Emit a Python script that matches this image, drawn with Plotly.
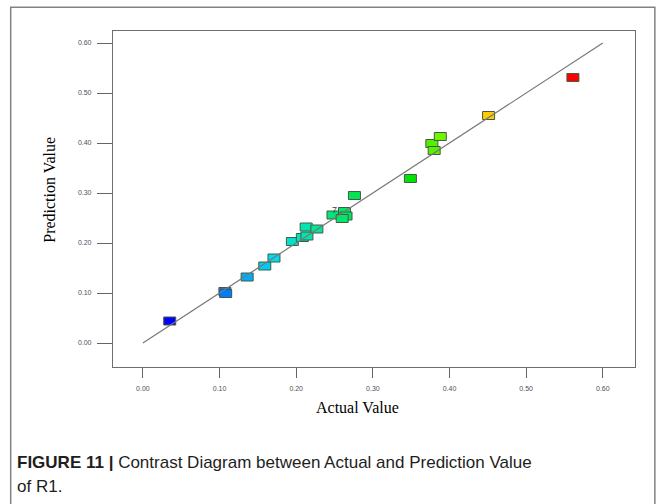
import plotly.graph_objects as go
from plotly.colors import sample_colorscale

# Data
actual = [0.035, 0.107, 0.108, 0.136, 0.159, 0.171, 0.195, 0.208, 0.214, 0.213, 0.227,
          0.248, 0.263, 0.265, 0.260, 0.276, 0.349, 0.377, 0.380, 0.388, 0.451, 0.561]
predicted = [0.044, 0.103, 0.099, 0.132, 0.154, 0.170, 0.203, 0.211, 0.214, 0.232, 0.228,
             0.256, 0.263, 0.254, 0.249, 0.295, 0.329, 0.399, 0.385, 0.413, 0.455, 0.531]
tick_vals = [0.0, 0.1, 0.2, 0.3, 0.4, 0.5, 0.6]
tick_text = ["0.00", "0.10", "0.20", "0.30", "0.40", "0.50", "0.60"]
point_label = "7"
point_label_xy = (0.250, 0.266)

colorscale = [
    [0.00, "rgb(0,0,255)"],
    [0.14, "rgb(0,125,255)"],
    [0.20, "rgb(0,180,245)"],
    [0.26, "rgb(0,220,240)"],
    [0.33, "rgb(0,230,185)"],
    [0.42, "rgb(0,230,110)"],
    [0.50, "rgb(0,230,50)"],
    [0.60, "rgb(0,228,0)"],
    [0.67, "rgb(110,245,0)"],
    [0.79, "rgb(255,205,0)"],
    [1.00, "rgb(255,0,0)"],
]
lo, hi = min(actual), max(actual)
fills = [sample_colorscale(colorscale, (v - lo) / (hi - lo))[0] for v in actual]

fig = go.Figure()
fig.add_trace(go.Scatter(x=[0, 0.6], y=[0, 0.6], mode="lines",
                         line=dict(color="rgb(120,120,120)", width=1.2),
                         showlegend=False, hoverinfo="skip"))
fig.add_trace(go.Scatter(x=actual, y=predicted, mode="markers",
                         marker=dict(size=10, opacity=0), showlegend=False))

shapes = []
for xv, yv, c in zip(actual, predicted, fills):
    shapes.append(dict(type="rect", xref="x", yref="y", layer="below",
                       xsizemode="pixel", ysizemode="pixel",
                       xanchor=xv, yanchor=yv, x0=-6, x1=6, y0=-4, y1=4,
                       fillcolor=c, line=dict(color="rgb(70,90,70)", width=1)))
# outer frame
shapes.append(dict(type="rect", xref="paper", yref="paper",
                   x0=-0.196, x1=1.038, y0=-0.5, y1=1.071,
                   line=dict(color="rgb(130,130,130)", width=1.5)))

tickfont = dict(family="Liberation Sans, Arial", size=7, color="rgb(80,80,90)")
axis_common = dict(tickmode="array", tickvals=tick_vals, ticktext=tick_text,
                   showgrid=False, zeroline=False, showline=True, mirror=True,
                   linecolor="rgb(110,110,110)", linewidth=1.2,
                   ticks="outside", tickcolor="rgb(100,100,100)", tickwidth=1.2,
                   tickfont=tickfont)

fig.update_layout(
    width=665, height=504,
    margin=dict(l=113, r=30, t=31, b=137),
    paper_bgcolor="white", plot_bgcolor="white",
    xaxis=dict(range=[-0.039, 0.642], ticklen=10, ticklabelstandoff=4, **axis_common),
    yaxis=dict(range=[-0.048, 0.624], ticklen=15, ticklabelstandoff=4, **axis_common),
    shapes=shapes,
    annotations=[
        dict(text="Prediction Value", xref="paper", yref="paper", x=-0.121, y=0.527,
             textangle=-90, showarrow=False, xanchor="center", yanchor="middle",
             font=dict(family="Liberation Serif, Times New Roman", size=16, color="black")),
        dict(text="Actual Value", xref="paper", yref="paper", x=0.468, y=-0.122,
             showarrow=False, xanchor="center", yanchor="middle",
             font=dict(family="Liberation Serif, Times New Roman", size=16, color="black")),
        dict(text=point_label, xref="x", yref="y", x=point_label_xy[0], y=point_label_xy[1],
             showarrow=False, xanchor="center", yanchor="middle",
             font=dict(family="Liberation Sans, Arial", size=9, color="rgb(60,60,60)")),
        dict(text="<b>FIGURE 11 |</b> Contrast Diagram between Actual and Prediction Value",
             xref="paper", yref="paper", x=-0.188, y=-0.284, showarrow=False,
             xanchor="left", yanchor="middle",
             font=dict(family="Liberation Sans, Arial", size=17, color="rgb(30,30,30)")),
        dict(text="of R1.", xref="paper", yref="paper", x=-0.188, y=-0.357, showarrow=False,
             xanchor="left", yanchor="middle",
             font=dict(family="Liberation Sans, Arial", size=17, color="rgb(30,30,30)")),
    ],
)

fig.write_html("out.html")
